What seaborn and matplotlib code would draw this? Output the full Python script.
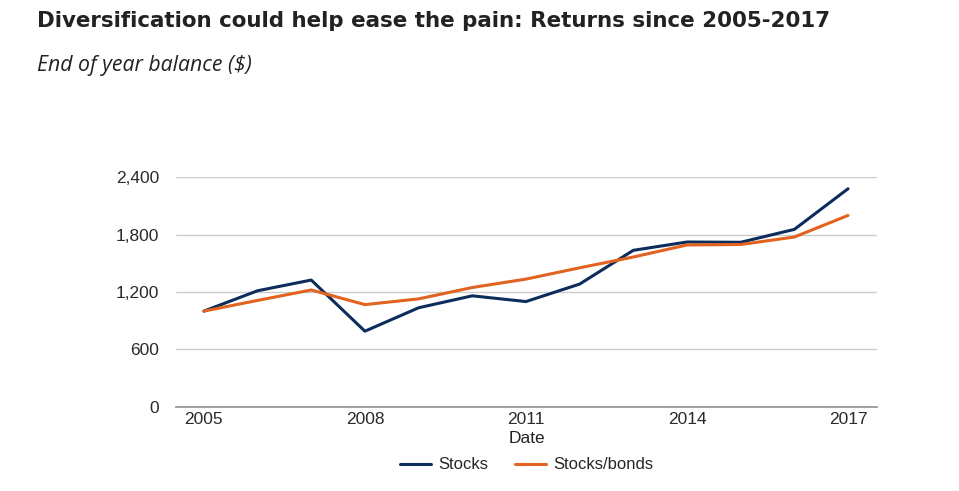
import pandas as pd
import matplotlib.pyplot as plt
import seaborn as sns

# data
years = list(range(2005, 2018))
stocks = [1000, 1213, 1325, 790, 1035, 1160, 1100, 1283, 1636, 1723, 1720, 1855, 2280]
stocks_bonds = [1000, 1112, 1221, 1068, 1128, 1247, 1335, 1453, 1566, 1692, 1697, 1775, 2001]
series_names = ["Stocks", "Stocks/bonds"]
x_ticks = [2005, 2008, 2011, 2014, 2017]
y_ticks = [0, 600, 1200, 1800, 2400]

df = pd.DataFrame({
    "Date": years * 2,
    "value": stocks + stocks_bonds,
    "series": [series_names[0]] * len(years) + [series_names[1]] * len(years),
})

sns.set_style("white")
plt.rcParams['font.family'] = ['Liberation Sans', 'DejaVu Sans']

fig = plt.figure(figsize=(9.59, 4.91), dpi=100)
ax = fig.add_axes([0.1835, 0.1717, 0.731, 0.4672])

sns.lineplot(data=df, x="Date", y="value", hue="series",
             palette=["#0c2d5b", "#e2631f"], linewidth=2.2, ax=ax)

ax.set_xlim(2004.48, 2017.54)
ax.set_ylim(0, 2400)
ax.set_xticks(x_ticks)
ax.set_yticks(y_ticks)
ax.set_yticklabels([f"{v:,}" for v in y_ticks])
ax.tick_params(axis='both', length=0, labelsize=12.5, colors="#2a2a2a")
ax.tick_params(axis='y', pad=12)
ax.tick_params(axis='x', pad=4)
ax.grid(axis='y', color="#cccccc", linewidth=1)
for s in ["top", "right", "left"]:
    ax.spines[s].set_visible(False)
ax.spines["bottom"].set_color("#999999")
ax.spines["bottom"].set_linewidth(1.3)
ax.set_ylabel("")
ax.set_xlabel("Date", fontsize=12.5, color="#222222", labelpad=3)

ax.legend(loc="center", bbox_to_anchor=(0.5, -0.254), ncol=2, frameon=False,
          fontsize=12, handlelength=1.86, columnspacing=1.6, handletextpad=0.45)

fig.text(0.0385, 0.9456, "Diversification could help ease the pain: Returns since 2005-2017",
         fontsize=15.4, fontweight="bold", color="#222222", va="baseline",
         family=["DejaVu Sans"])
fig.text(0.0385, 0.8554, "End of year balance ($)", fontsize=15.3, style="italic",
         color="#222222", va="baseline", family=["Open Sans", "DejaVu Sans"])

fig.savefig("out.png", dpi=100)
